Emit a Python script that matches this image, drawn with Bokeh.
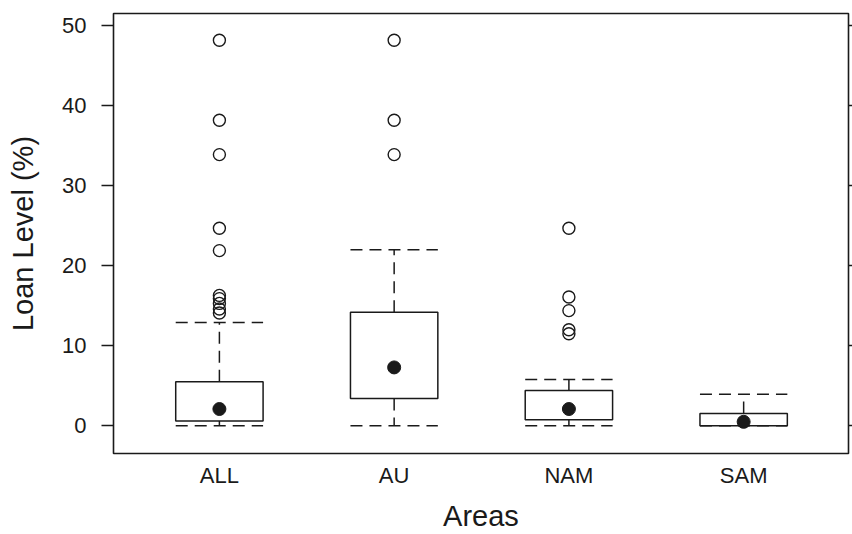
from bokeh.plotting import figure
from bokeh.models import Range1d, FixedTicker, LinearAxis, ColumnDataSource
from bokeh.embed import file_html
from bokeh.resources import INLINE

# ---- data ----
areas = ["ALL", "AU", "NAM", "SAM"]
q1 = [0.6, 3.4, 0.75, 0.0]
median = [2.1, 7.3, 2.1, 0.5]
q3 = [5.5, 14.2, 4.4, 1.55]
whisker_low = [0.0, 0.0, 0.0, 0.0]
whisker_high = [12.9, 22.0, 5.8, 3.95]
outliers = {
    "ALL": [48.2, 38.2, 33.9, 24.7, 21.9, 16.3, 15.9, 15.3, 14.6, 14.1],
    "AU": [48.2, 38.2, 33.9],
    "NAM": [24.7, 16.1, 14.4, 12.0, 11.5],
    "SAM": [],
}
y_ticks = [0, 10, 20, 30, 40, 50]

FONT = "Liberation Sans"
INK = "#1a1a1a"

pos = [i + 1 for i in range(len(areas))]
half = 0.25

p = figure(width=852, height=534, output_backend="svg", toolbar_location=None,
           x_range=Range1d(0.394, 4.6), y_range=Range1d(-3.46, 51.54),
           min_border_left=113, min_border_right=3, min_border_top=13, min_border_bottom=81)
p.xgrid.visible = False
p.ygrid.visible = False
p.outline_line_color = INK
p.outline_line_width = 1.6
p.background_fill_color = "white"
p.border_fill_color = "white"

src = ColumnDataSource(dict(x=pos, q1=q1, q3=q3, med=median, lo=whisker_low, hi=whisker_high,
                            xl=[x - half for x in pos], xr=[x + half for x in pos]))

dash = "12 7"
# whiskers (vertical)
p.segment(x0="x", y0="q3", x1="x", y1="hi", source=src, line_color=INK, line_width=1.5, line_dash=dash)
p.segment(x0="x", y0="q1", x1="x", y1="lo", source=src, line_color=INK, line_width=1.5, line_dash=dash)
# caps
p.segment(x0="xl", y0="hi", x1="xr", y1="hi", source=src, line_color=INK, line_width=1.5, line_dash=dash)
p.segment(x0="xl", y0="lo", x1="xr", y1="lo", source=src, line_color=INK, line_width=1.5, line_dash=dash)
# boxes
p.vbar(x="x", width=2 * half, bottom="q1", top="q3", source=src,
       fill_color="white", line_color=INK, line_width=1.5)
# medians
p.scatter(x="x", y="med", source=src, size=13, marker="circle",
          fill_color=INK, line_color=INK, line_width=1)
# outliers
ox, oy = [], []
for i, a in enumerate(areas):
    for v in outliers[a]:
        ox.append(pos[i])
        oy.append(v)
p.scatter(x=ox, y=oy, size=12, marker="circle", fill_color=None,
          line_color=INK, line_width=1.4)

# left axis
ya = p.yaxis[0]
ya.ticker = FixedTicker(ticks=y_ticks)
ya.axis_line_color = None
ya.major_tick_line_color = INK
ya.major_tick_line_width = 1.4
ya.major_tick_out = 12
ya.major_tick_in = 0
ya.minor_tick_line_color = None
ya.major_label_standoff = 15
ya.major_label_text_font = FONT
ya.major_label_text_font_size = "22px"
ya.major_label_text_color = INK
ya.axis_label = "Loan Level (%)"
ya.axis_label_text_font = FONT
ya.axis_label_text_font_size = "29px"
ya.axis_label_text_font_style = "normal"
ya.axis_label_text_color = INK
ya.axis_label_standoff = 20

# bottom axis
xa = p.xaxis[0]
xa.ticker = FixedTicker(ticks=pos)
xa.major_label_overrides = {x: a for x, a in zip(pos, areas)}
xa.axis_line_color = None
xa.major_tick_line_color = None
xa.minor_tick_line_color = None
xa.major_tick_out = 0
xa.major_tick_in = 0
xa.major_label_standoff = 9
xa.major_label_text_font = FONT
xa.major_label_text_font_size = "22px"
xa.major_label_text_color = INK
xa.axis_label = "Areas"
xa.axis_label_text_font = FONT
xa.axis_label_text_font_size = "29px"
xa.axis_label_text_font_style = "normal"
xa.axis_label_text_color = INK
xa.axis_label_standoff = 9

# right axis: ticks only, no labels
ra = LinearAxis(ticker=FixedTicker(ticks=y_ticks))
ra.axis_line_color = None
ra.major_tick_line_color = INK
ra.major_tick_line_width = 1.4
ra.major_tick_out = 4
ra.major_tick_in = 0
ra.minor_tick_line_color = None
ra.major_label_overrides = {t: "" for t in y_ticks}
ra.major_label_text_color = None
ra.major_label_standoff = 0
p.add_layout(ra, "right")

open("out.html", "w").write(file_html(p, INLINE))
